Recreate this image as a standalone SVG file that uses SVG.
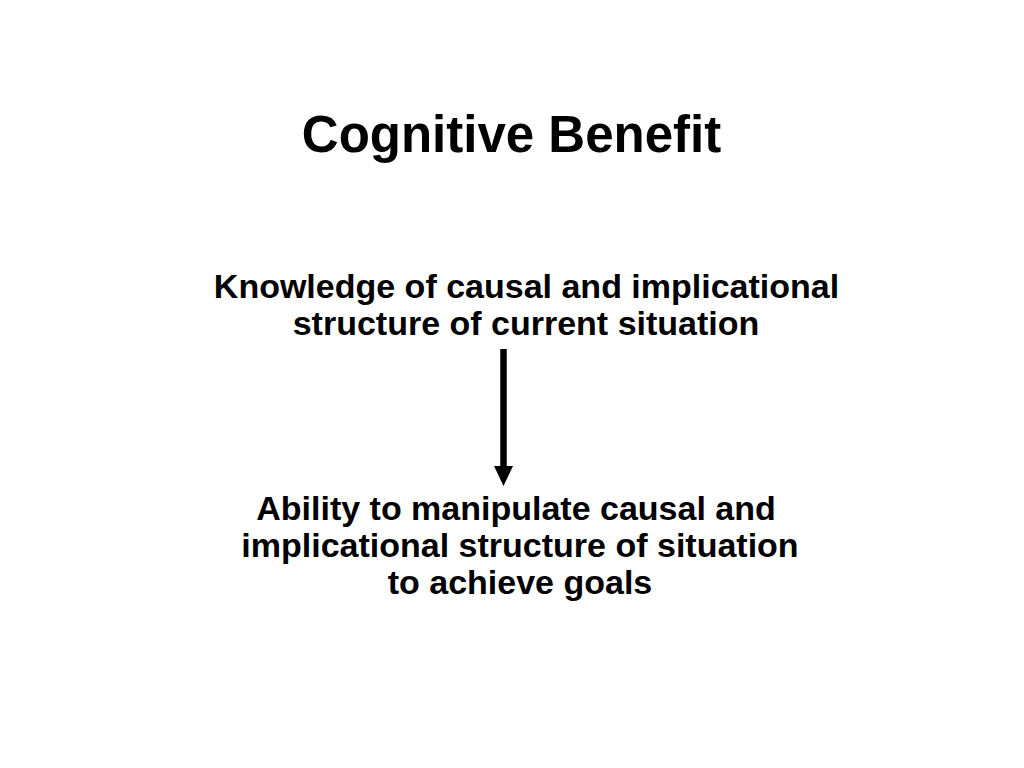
<svg xmlns="http://www.w3.org/2000/svg" width="1024" height="768" viewBox="0 0 1024 768">
  <style>
    text { font-family: "Liberation Sans", Arial, sans-serif; font-weight: bold; fill: #000; text-anchor: middle; }
    .title { font-size: 51px; }
    .lbl { font-size: 34px; }
  </style>
  <rect width="1024" height="768" fill="#fff"/>
  <g id="title">
    <text class="title" x="511.5" y="152">Cognitive Benefit</text>
  </g>
  <g id="node-knowledge">
    <text class="lbl" x="526.5" y="298">Knowledge of causal and implicational</text>
    <text class="lbl" x="526" y="335">structure of current situation</text>
  </g>
  <g id="node-ability">
    <text class="lbl" x="516" y="520">Ability to manipulate causal and</text>
    <text class="lbl" x="520" y="557">implicational structure of situation</text>
    <text class="lbl" x="520" y="594">to achieve goals</text>
  </g>
  <g id="connectors">
    <line x1="503.5" y1="349" x2="503.5" y2="467" stroke="#000" stroke-width="6.5"/>
    <polygon points="494,466 513,466 503.5,486" fill="#000"/>
  </g>
</svg>
